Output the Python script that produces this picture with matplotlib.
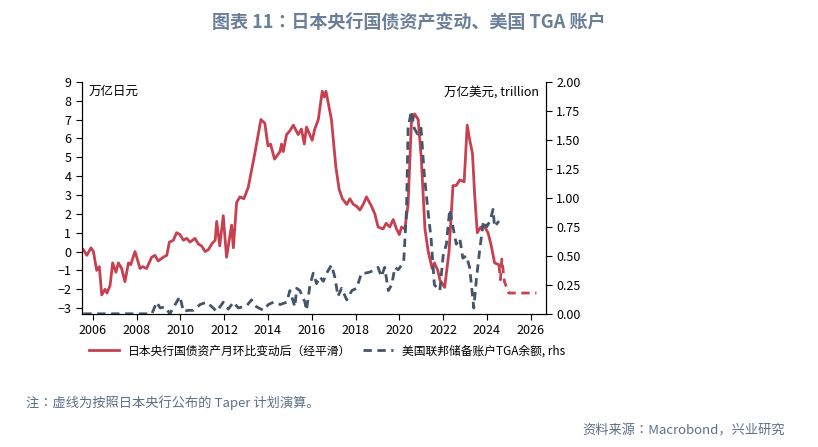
import matplotlib
matplotlib.use("Agg")
import matplotlib.pyplot as plt
from matplotlib import font_manager as fm

cjk = [f.name for f in fm.fontManager.ttflist if "CJK" in f.name]
pref = [n for n in cjk if "SC" in n] or cjk
plt.rcParams["font.family"] = ([pref[0]] if pref else []) + ["DejaVu Sans"]

boj_t = [2005.57,2005.73,2005.92,2006.03,2006.18,2006.3,2006.41,2006.56,2006.65,2006.79,2006.91,2007.06,2007.17,2007.32,2007.47,2007.63,2007.73,2007.93,2008.16,2008.28,2008.46,2008.69,2008.84,2008.99,2009.22,2009.38,2009.5,2009.68,2009.83,2009.98,2010.14,2010.29,2010.44,2010.67,2010.82,2010.97,2011.13,2011.28,2011.43,2011.59,2011.66,2011.8,2011.96,2012.11,2012.34,2012.42,2012.57,2012.72,2012.9,2013.1,2013.4,2013.68,2013.86,2014.0,2014.12,2014.3,2014.55,2014.62,2014.7,2014.85,2015.0,2015.16,2015.38,2015.53,2015.66,2015.76,2016.02,2016.14,2016.3,2016.48,2016.57,2016.65,2016.9,2017.1,2017.25,2017.4,2017.6,2017.74,2017.9,2018.05,2018.2,2018.35,2018.5,2018.73,2018.88,2019.03,2019.26,2019.4,2019.56,2019.72,2019.87,2020.0,2020.1,2020.25,2020.4,2020.55,2020.7,2020.86,2021.0,2021.17,2021.32,2021.5,2021.6,2021.76,2021.85,2022.07,2022.27,2022.45,2022.6,2022.76,2022.96,2023.1,2023.2,2023.34,2023.44,2023.56,2023.72,2023.9,2024.05,2024.2,2024.35,2024.55]
boj_v = [0.1,-0.2,0.2,0.0,-1.0,-0.8,-2.3,-2.0,-2.2,-1.8,-0.6,-1.1,-0.6,-0.9,-1.6,-0.6,-0.7,0.0,-0.9,-0.8,-0.9,-0.3,-0.2,-0.5,-0.3,-0.2,0.5,0.6,1.0,0.9,0.6,0.7,0.5,0.7,0.4,0.3,0.0,0.1,0.4,0.6,1.6,0.3,1.9,-0.3,1.4,0.2,2.6,2.9,2.8,3.4,5.2,7.0,6.8,5.6,5.7,4.9,5.3,5.7,5.3,6.2,6.4,6.7,6.2,6.5,5.7,6.6,5.9,6.5,7.0,8.5,8.2,8.5,7.0,4.5,3.3,2.8,2.5,2.8,2.5,2.4,2.2,2.5,2.9,2.4,2.0,1.3,1.2,1.5,1.3,1.7,1.2,0.9,1.3,1.2,2.5,6.8,7.3,7.0,5.0,1.2,0.0,-0.9,-0.6,-1.0,-1.5,-1.9,0.0,3.5,3.5,3.8,3.7,6.7,6.0,5.2,3.0,1.0,1.3,1.3,1.0,0.3,-0.6,-0.7]
plan_t = [2024.55,2024.62,2024.68,2024.8,2025.0,2026.26]
plan_v = [-0.7,-1.5,-0.4,-1.6,-2.2,-2.2]

tga_t = [2005.57,2008.7,2008.92,2009.08,2009.3,2009.52,2009.98,2010.14,2010.37,2010.6,2010.9,2011.2,2011.5,2011.66,2011.96,2012.19,2012.42,2012.65,2013.03,2013.25,2013.48,2013.79,2014.02,2014.25,2014.56,2014.86,2015.0,2015.23,2015.31,2015.46,2015.69,2015.76,2015.92,2016.07,2016.22,2016.37,2016.53,2016.68,2016.9,2017.05,2017.2,2017.36,2017.6,2017.83,2018.05,2018.27,2018.43,2018.66,2018.88,2019.03,2019.18,2019.33,2019.5,2019.65,2019.8,2019.95,2020.1,2020.2,2020.33,2020.4,2020.55,2020.68,2020.83,2020.99,2021.14,2021.3,2021.45,2021.6,2021.85,2022.0,2022.15,2022.3,2022.45,2022.6,2022.76,2022.9,2023.06,2023.21,2023.4,2023.52,2023.67,2023.84,2023.99,2024.14,2024.28,2024.35,2024.55]
tga_v = [0.0,0.0,0.1,0.05,0.06,0.0,0.15,0.02,0.03,0.03,0.08,0.1,0.05,0.02,0.1,0.04,0.1,0.05,0.07,0.12,0.06,0.03,0.08,0.1,0.08,0.1,0.2,0.06,0.22,0.2,0.1,0.03,0.25,0.35,0.26,0.32,0.28,0.35,0.42,0.32,0.15,0.22,0.12,0.2,0.22,0.35,0.35,0.36,0.38,0.4,0.32,0.4,0.2,0.25,0.4,0.38,0.42,0.45,0.9,1.6,1.75,1.6,1.55,1.6,1.2,0.9,0.65,0.25,0.2,0.5,0.6,0.9,0.75,0.6,0.65,0.48,0.5,0.4,0.05,0.3,0.55,0.8,0.75,0.8,0.9,0.75,0.8]

red = "#c8404f"; blue = "#44546a"
fig = plt.figure(figsize=(8.18, 4.47), dpi=100)
ax = fig.add_axes([0.100, 0.298, 0.567, 0.519])
ax2 = ax.twinx()
l1, = ax.plot(boj_t, boj_v, color=red, lw=2)
ax.plot(plan_t, plan_v, color=red, lw=2, ls=(0, (3, 2)))
l2, = ax2.plot(tga_t, tga_v, color=blue, lw=2, ls=(0, (3, 2)))
ax.set_xlim(2005.5, 2026.68)
ax.set_ylim(-3.3, 9.0)
ax2.set_ylim(0, 2.0)
ax.set_yticks(range(-3, 10))
ax2.set_yticks([0, 0.25, 0.5, 0.75, 1.0, 1.25, 1.5, 1.75, 2.0])
ax2.set_yticklabels(["0.00","0.25","0.50","0.75","1.00","1.25","1.50","1.75","2.00"])
ax.set_xticks(range(2006, 2027, 2))
for a in (ax, ax2):
    a.spines["top"].set_visible(False)
    a.tick_params(labelsize=9, length=4, direction="out")
ax.text(0.015, 0.985, "万亿日元", transform=ax.transAxes, fontsize=9, va="top")
ax.text(0.985, 0.985, "万亿美元, trillion", transform=ax.transAxes, fontsize=9, va="top", ha="right")
fig.legend([l1, l2], ["日本央行国债资产月环比变动后（经平滑）", "美国联邦储备账户TGA余额, rhs"],
           loc="center", bbox_to_anchor=(0.40, 0.215), ncol=2, frameon=False, fontsize=8.5,
           handlelength=2.5, columnspacing=1.0)
fig.text(0.5, 0.95, "图表 11：日本央行国债资产变动、美国 TGA 账户", ha="center", va="center",
         fontsize=13, fontweight="bold", color="#6a7f99")
fig.text(0.032, 0.1, "注：虚线为按照日本央行公布的 Taper 计划演算。", fontsize=9.5, color="#5b6f8a", va="center")
fig.text(0.96, 0.035, "资料来源：Macrobond，兴业研究", fontsize=9.5, color="#5b6f8a", ha="right", va="center")
fig.savefig("out.png", dpi=100)
